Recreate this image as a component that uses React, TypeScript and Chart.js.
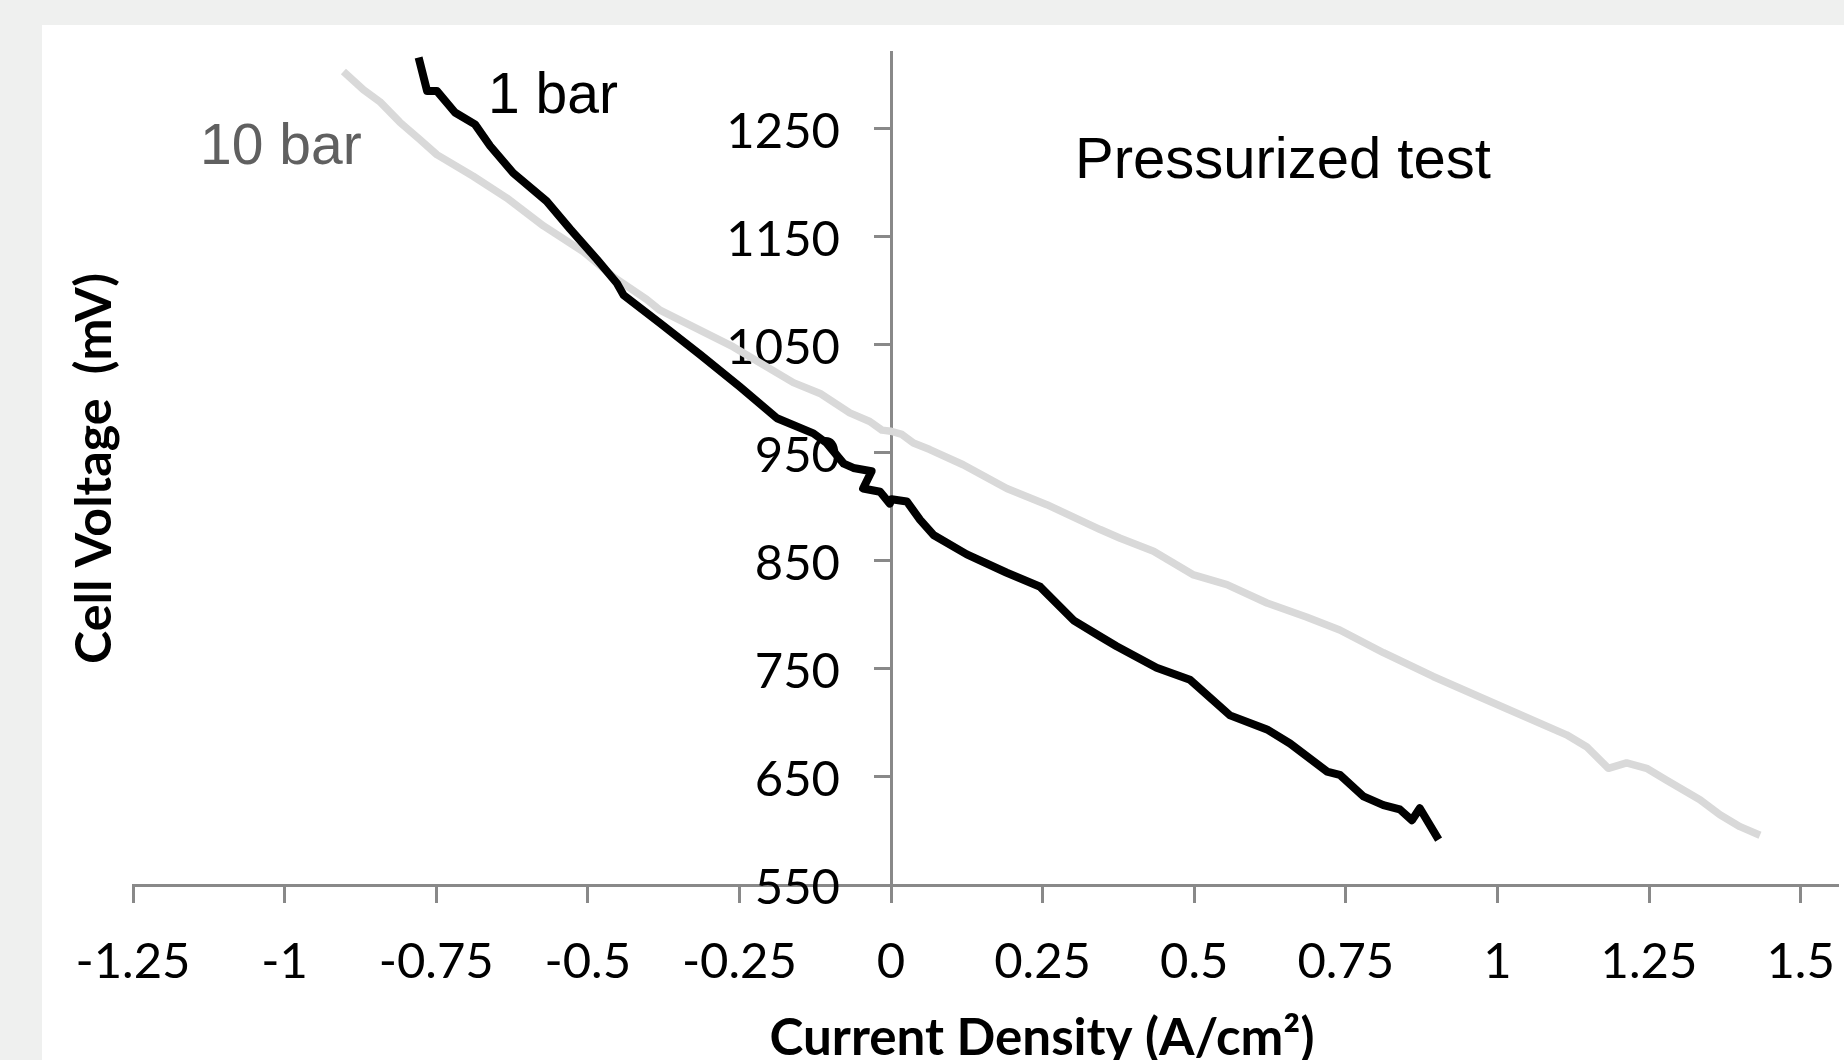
import React, { useEffect, useRef } from "react";
import { Chart, registerables } from "chart.js";

Chart.register(...registerables);

// 1 bar series (current density A/cm², cell voltage mV)
const bar1Current = [-0.779, -0.765, -0.749, -0.719, -0.686, -0.661, -0.623, -0.568, -0.529, -0.485, -0.452, -0.441, -0.381, -0.315, -0.249, -0.188, -0.128, -0.106, -0.078, -0.062, -0.032, -0.046, -0.018, -0.002, 0.001, 0.026, 0.048, 0.07, 0.125, 0.191, 0.246, 0.301, 0.345, 0.372, 0.438, 0.493, 0.559, 0.62, 0.658, 0.719, 0.74, 0.779, 0.812, 0.839, 0.859, 0.872, 0.903];
const bar1Voltage = [1316, 1285, 1285, 1265, 1254, 1234, 1209, 1183, 1157, 1129, 1107, 1096, 1070, 1041, 1011, 982, 968, 959, 940, 936, 933, 917, 914, 903, 907, 905, 888, 874, 856, 839, 826, 795, 780, 771, 751, 740, 707, 694, 681, 655, 652, 632, 624, 620, 610, 621, 592];

// 10 bar series
const bar10Current = [-0.903, -0.87, -0.843, -0.81, -0.777, -0.749, -0.689, -0.634, -0.573, -0.507, -0.458, -0.403, -0.381, -0.26, -0.161, -0.117, -0.068, -0.035, -0.015, 0.0, 0.018, 0.037, 0.064, 0.119, 0.191, 0.257, 0.345, 0.378, 0.433, 0.499, 0.554, 0.62, 0.685, 0.74, 0.812, 0.894, 0.971, 1.114, 1.147, 1.183, 1.213, 1.246, 1.279, 1.334, 1.367, 1.4, 1.433];
const bar10Voltage = [1303, 1286, 1275, 1256, 1240, 1226, 1206, 1186, 1160, 1136, 1113, 1092, 1082, 1048, 1015, 1005, 987, 979, 971, 970, 967, 959, 953, 939, 917, 902, 879, 871, 859, 837, 828, 811, 798, 786, 765, 743, 724, 689, 678, 658, 663, 658, 647, 629, 615, 604, 596];

const xTickValues = [-1.25, -1, -0.75, -0.5, -0.25, 0, 0.25, 0.5, 0.75, 1, 1.25, 1.5];
const yTickValues = [550, 650, 750, 850, 950, 1050, 1150, 1250];

const xAxisTitle = "Current Density (A/cm²)";
const yAxisTitle = "Cell Voltage  (mV)";
const label1Bar = "1 bar";
const label10Bar = "10 bar";
const chartNote = "Pressurized test";

const AXIS_GRAY = "#898989";

function fitSize(ctx: CanvasRenderingContext2D, text: string, font: (s: number) => string, target: number) {
  ctx.font = font(100);
  const w = ctx.measureText(text).width;
  return (100 * target) / w;
}

const decorPlugin = {
  id: "decor",
  beforeDraw(chart: any) {
    const { ctx, width, height } = chart;
    ctx.save();
    ctx.fillStyle = "#eff0ef";
    ctx.fillRect(0, 0, width, height);
    ctx.fillStyle = "#ffffff";
    ctx.fillRect(42, 25, width - 42, height - 25);
    ctx.restore();
    const ys = chart.scales.y;
    const xs = chart.scales.x;
    const ax = xs.getPixelForValue(0);
    const items = ys.getLabelItems(chart.chartArea);
    for (const it of items) {
      it.options.translation = [ax - 51, it.options.translation[1] + 3];
      it.options.textAlign = "right";
    }
  },
  afterDraw(chart: any) {
    const { ctx } = chart;
    ctx.save();
    ctx.textBaseline = "alphabetic";
    ctx.textAlign = "left";
    ctx.font = '57px "Liberation Sans"';
    ctx.fillStyle = "#000000";
    ctx.fillText(label1Bar, 488, 113);
    ctx.fillStyle = "#606060";
    ctx.fillText(label10Bar, 200, 164);
    ctx.fillStyle = "#000000";
    ctx.font = '58px "Liberation Sans"';
    ctx.fillText(chartNote, 1075, 178);

    const boldFont = (s: number) => `bold ${s}px Lato`;
    // x axis title
    const xs = fitSize(ctx, xAxisTitle, boldFont, 545);
    ctx.font = boldFont(xs);
    ctx.textAlign = "center";
    ctx.fillStyle = "#000000";
    ctx.fillText(xAxisTitle, 1042, 1055);
    // y axis title
    const ysz = fitSize(ctx, yAxisTitle, boldFont, 391);
    ctx.font = boldFont(ysz);
    ctx.translate(111, 468.5);
    ctx.rotate(-Math.PI / 2);
    ctx.fillText(yAxisTitle, 0, 0);
    ctx.restore();
  },
};

export default function App() {
  const canvasRef = useRef<HTMLCanvasElement | null>(null);

  useEffect(() => {
    if (!canvasRef.current) return;
    const bar1Data = bar1Current.map((x, i) => ({ x, y: bar1Voltage[i] }));
    const bar10Data = bar10Current.map((x, i) => ({ x, y: bar10Voltage[i] }));
    const tickFont = { family: "Lato", size: 49 };
    const chart = new Chart(canvasRef.current, {
      type: "line",
      data: {
        datasets: [
          {
            label: label1Bar,
            data: bar1Data,
            borderColor: "#000000",
            backgroundColor: "#000000",
            borderWidth: 8,
            pointRadius: 0,
            pointHoverRadius: 0,
            tension: 0,
            fill: false,
            borderJoinStyle: "round",
            borderCapStyle: "butt",
          },
          {
            label: label10Bar,
            data: bar10Data,
            borderColor: "#d9d9d9",
            backgroundColor: "#d9d9d9",
            borderWidth: 7.5,
            pointRadius: 0,
            pointHoverRadius: 0,
            tension: 0,
            fill: false,
            borderJoinStyle: "round",
            borderCapStyle: "butt",
          },
        ],
      },
      options: {
        responsive: false,
        animation: false,
        devicePixelRatio: 1,
        events: [],
        parsing: { xAxisKey: "x", yAxisKey: "y" },
        layout: { padding: { left: 133, right: 7, top: 52, bottom: 175 } },
        plugins: {
          legend: { display: false },
          tooltip: { enabled: false },
          title: { display: false },
        },
        scales: {
          x: {
            type: "linear",
            position: { y: 550 } as any,
            min: -1.25,
            max: 1.56,
            afterBuildTicks: (scale: any) => {
              scale.ticks = xTickValues.map((v) => ({ value: v }));
            },
            grid: {
              drawOnChartArea: false,
              drawTicks: true,
              tickLength: 16,
              color: AXIS_GRAY,
              lineWidth: 3,
            },
            border: { display: true, color: AXIS_GRAY, width: 3 },
            ticks: {
              autoSkip: false,
              maxRotation: 0,
              minRotation: 0,
              padding: 0,
              color: "#000000",
              font: { ...tickFont, lineHeight: 2.5 },
              callback: (v: any) => String(Math.round(Number(v) * 100) / 100),
            },
          },
          y: {
            type: "linear",
            position: { x: 0 } as any,
            min: 550,
            max: 1321,
            afterBuildTicks: (scale: any) => {
              scale.ticks = yTickValues.map((v) => ({ value: v }));
            },
            grid: {
              drawOnChartArea: false,
              drawTicks: true,
              tickLength: 16,
              color: AXIS_GRAY,
              lineWidth: 3,
            },
            border: { display: true, color: AXIS_GRAY, width: 3 },
            ticks: {
              autoSkip: false,
              padding: 0,
              color: "#000000",
              font: tickFont,
              callback: (v: any) => String(v),
            },
          },
        },
      },
      plugins: [decorPlugin],
    });
    return () => chart.destroy();
  }, []);

  return (
    <div style={{ position: "absolute", left: 0, top: 0, width: 1844, height: 1060 }}>
      <canvas ref={canvasRef} width={1844} height={1060} style={{ display: "block" }} />
    </div>
  );
}
